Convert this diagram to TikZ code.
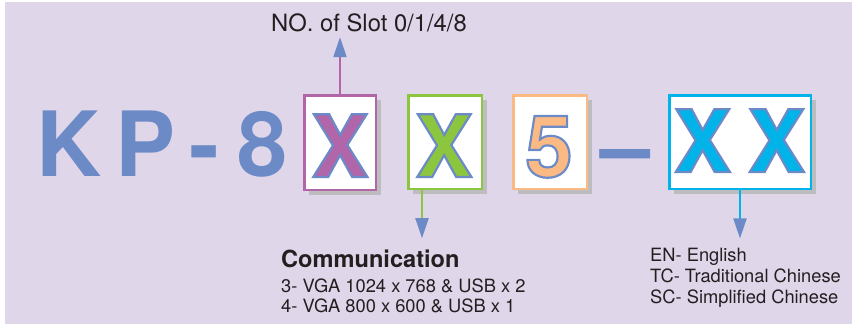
\documentclass[tikz,border=0pt]{standalone}
\usepackage{fontspec}
\setmainfont{TeX Gyre Heros}
\newfontface\rimface{texgyreheros-bold}[Extension=.otf, FakeBold=2.5]
\usetikzlibrary{arrows.meta,shadows}
\definecolor{paleLilac}{HTML}{E0D6EA}
\definecolor{kpBlue}{HTML}{6B8AC6}
\definecolor{slotPurple}{HTML}{B066A9}
\definecolor{commGreen}{HTML}{8CC63F}
\definecolor{fixOrange}{HTML}{FBB983}
\definecolor{langCyan}{HTML}{00B3E8}
\definecolor{shadowGrey}{HTML}{BDBDC0}
\definecolor{inkDark}{HTML}{231F20}

% stroke colour for the rim of the big glyphs
\newcommand{\rimblue}{\special{pdf:literal direct 0.42 0.54 0.78 RG}}

\begin{document}
\begin{tikzpicture}[x=1pt,y=-1pt,
    codebox/.style={draw, line width=2.5pt, fill=white, inner sep=0pt,
      minimum width=73.5pt, minimum height=93.5pt,
      drop shadow={shadow xshift=5pt, shadow yshift=-5pt, fill=shadowGrey, opacity=1}},
    bigglyph/.style={anchor=base, inner sep=0pt, font=\fontsize{86}{86}\rimface},
    kpglyph/.style={anchor=base west, inner sep=0pt, text=kpBlue, font=\fontsize{90}{90}\selectfont\bfseries},
    pointer/.style={line width=2pt, -{Triangle[length=20pt,width=13pt,color=kpBlue]}},
    note/.style={inner sep=0pt, text=inkDark, anchor=base west, font=\fontsize{18.3}{21}\selectfont}]
  \useasboundingbox (0,0) rectangle (852,324);
  \fill[paleLilac] (5,2) rectangle (852,324);

  % fixed part of the model number
  \node[kpglyph] (k) at (36.5,176) {K};
  \node[kpglyph] (p) at (115,176) {P};
  \node[kpglyph] (dash) at (189,176) {-};
  \node[kpglyph] (eight) at (237,176) {8};

  % code boxes
  \node[codebox, draw=slotPurple, minimum width=71.5pt, minimum height=94.5pt] (slot) at (340,142.5) {};
  \node[codebox, draw=commGreen] (comm) at (445,142) {};
  \node[codebox, draw=fixOrange] (fixed) at (550,142) {};
  \node[codebox, draw=langCyan, minimum width=141.5pt] (lang) at (740,142) {};

  \node[bigglyph, text=slotPurple] (slotx) at (340,177) {\rimblue X};
  \node[bigglyph, text=commGreen] (commx) at (444,177) {\rimblue X};
  \node[bigglyph, text=fixOrange] (five) at (549,177) {\rimblue 5};
  \node[bigglyph, text=langCyan] (langx) at (702.5,172) {\rimblue X};
  \node[bigglyph, text=langCyan] (langy) at (776.5,172) {\rimblue X};
  \node[kpglyph, anchor=base] (gap) at (625.5,177) {–};

  % labels
  \node[note, anchor=base, font=\fontsize{23.8}{28}\selectfont] (slotlabel) at (369,31) {NO. of Slot 0/1/4/8};
  \node[note, font=\fontsize{23.6}{28}\selectfont\bfseries] (commhead) at (281,267) {Communication};
  \node[note] (vga3) at (281,292) {3- VGA 1024 x 768 \& USB x 2};
  \node[note] (vga4) at (281,312) {4- VGA 800 x 600 \& USB x 1};
  \node[note] (en) at (650,261) {EN- English};
  \node[note] (tc) at (650,282) {TC- Traditional Chinese};
  \node[note] (sc) at (650,303) {SC- Simplified Chinese};

  % pointers
  \coordinate (commdrop) at ([xshift=-23pt]comm.south);
  \draw[pointer, slotPurple, shorten >=5.5pt] (slot.north) -- (slot.north |- slotlabel.south);
  \draw[pointer, commGreen, shorten >=11pt] (commdrop) -- (commdrop |- commhead.north);
  \draw[pointer, langCyan, shorten >=9pt] (lang.south) -- (lang.south |- en.north);
\end{tikzpicture}
\end{document}
